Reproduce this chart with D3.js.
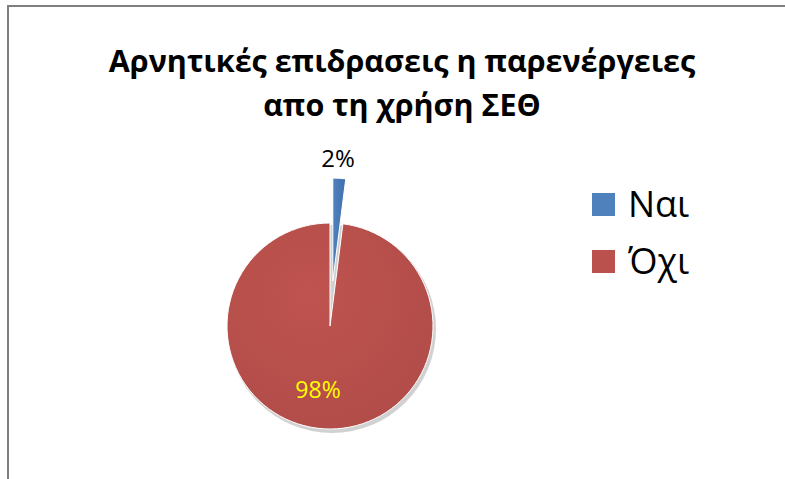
<!DOCTYPE html>
<html>
<head>
<meta charset="utf-8">
<script src="https://cdn.jsdelivr.net/npm/d3@7"></script>
<style>
  html, body { margin: 0; padding: 0; background: #fff; }
  svg { display: block; }
</style>
</head>
<body>
<svg id="chart" width="785" height="479"></svg>
<script>
// Chart data
const categories = ["Ναι", "Όχι"];
const values = [2, 98];
const valueLabels = ["2%", "98%"];
const colors = ["#4F81BD", "#BA514D"];
const titleLines = ["Αρνητικές επιδρασεις η παρενέργειες", "απο τη χρήση ΣΕΘ"];

const svg = d3.select("#chart");
const font = "'Open Sans', 'DejaVu Sans', sans-serif";

// Outer frame
svg.append("rect")
  .attr("x", 8).attr("y", 6)
  .attr("width", 800).attr("height", 500)
  .attr("fill", "none")
  .attr("stroke", "#7f7f7f")
  .attr("stroke-width", 2);

// Title
svg.append("g").selectAll("text")
  .data(titleLines)
  .join("text")
  .attr("x", 402)
  .attr("y", (d, i) => 72 + i * 44)
  .attr("text-anchor", "middle")
  .attr("font-family", font)
  .attr("font-weight", "bold")
  .attr("font-size", 30.5)
  .attr("fill", "#000")
  .text(d => d);

// Pie
const cx = 330, cy = 326, r = 103;
const explode = 45;

const defs = svg.append("defs");
const grad = defs.append("radialGradient")
  .attr("id", "redShade")
  .attr("cx", "40%").attr("cy", "35%").attr("r", "75%");
grad.append("stop").attr("offset", "0%").attr("stop-color", "#BF534F");
grad.append("stop").attr("offset", "100%").attr("stop-color", "#B04C48");

const blueGrad = defs.append("linearGradient")
  .attr("id", "blueShade")
  .attr("x1", "0%").attr("x2", "100%");
blueGrad.append("stop").attr("offset", "0%").attr("stop-color", "#4F81BD");
blueGrad.append("stop").attr("offset", "100%").attr("stop-color", "#3F6FAE");

const fills = ["url(#blueShade)", "url(#redShade)"];

const pie = d3.pie().sort(null).value(d => d);
const arcs = pie(values);
const arc = d3.arc().innerRadius(0).outerRadius(r);

const pieG = svg.append("g").attr("transform", `translate(${cx},${cy})`);

// Soft shadow under the pie
pieG.append("ellipse")
  .attr("cx", 2).attr("cy", 3)
  .attr("rx", r + 1).attr("ry", r + 1)
  .attr("fill", "#000")
  .attr("opacity", 0.18);

pieG.selectAll("path.slice")
  .data(arcs)
  .join("path")
  .attr("class", "slice")
  .attr("transform", (d, i) => {
    if (i !== 0) return null;
    const mid = (d.startAngle + d.endAngle) / 2;
    return `translate(${Math.sin(mid) * explode},${-Math.cos(mid) * explode})`;
  })
  .attr("d", arc)
  .attr("fill", (d, i) => fills[i])
  .attr("stroke", "#fff")
  .attr("stroke-width", 1);

// Value labels
pieG.append("text")
  .attr("x", 8)
  .attr("y", -159)
  .attr("text-anchor", "middle")
  .attr("font-family", font)
  .attr("font-size", 24)
  .attr("fill", "#000")
  .text(valueLabels[0]);

pieG.append("text")
  .attr("x", -12)
  .attr("y", 72)
  .attr("text-anchor", "middle")
  .attr("font-family", font)
  .attr("font-size", 23)
  .attr("fill", "#FFFF00")
  .text(valueLabels[1]);

// Legend
const legend = svg.append("g").attr("transform", "translate(592,193)");
const items = legend.selectAll("g")
  .data(categories)
  .join("g")
  .attr("transform", (d, i) => `translate(0,${i * 57})`);
items.append("rect")
  .attr("width", 23).attr("height", 23)
  .attr("fill", (d, i) => colors[i]);
items.append("text")
  .attr("x", 36)
  .attr("y", 24)
  .attr("font-family", font)
  .attr("font-size", 36)
  .attr("fill", "#000")
  .text(d => d);
</script>
</body>
</html>
